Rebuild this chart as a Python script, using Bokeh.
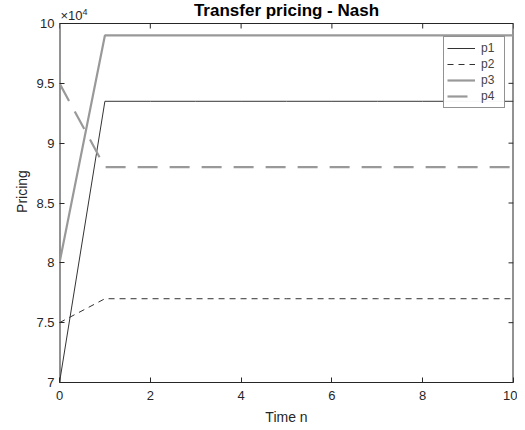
import math
from bokeh.plotting import figure
from bokeh.embed import file_html
from bokeh.resources import INLINE
from bokeh.models import (FixedTicker, CustomJSTickFormatter, Label,
                          Range1d, Legend, LegendItem)

n = [0, 1, 2, 3, 4, 5, 6, 7, 8, 9, 10]
p1 = [70000, 93500, 93500, 93500, 93500, 93500, 93500, 93500, 93500, 93500, 93500]
p2 = [75000, 77000, 77000, 77000, 77000, 77000, 77000, 77000, 77000, 77000, 77000]
p3 = [80000, 99000, 99000, 99000, 99000, 99000, 99000, 99000, 99000, 99000, 99000]
p4 = [95000, 88000, 88000, 88000, 88000, 88000, 88000, 88000, 88000, 88000, 88000]
x_ticks = [0, 2, 4, 6, 8, 10]
y_ticks = [70000, 75000, 80000, 85000, 90000, 95000, 100000]
X_MIN, X_MAX = 0, 10
Y_MIN, Y_MAX = 70000, 100000

FONT = "Liberation Sans"
AX = "#262626"

# plot box is 454 x 359 px; the frame is extended upward to hold the title
EXT = 23
PX = (Y_MAX - Y_MIN) / 359.0
p = figure(frame_width=454, frame_height=359 + EXT, output_backend="svg", toolbar_location=None,
           x_range=Range1d(X_MIN, X_MAX), y_range=Range1d(Y_MIN, Y_MAX + EXT * PX),
           min_border_left=59, min_border_right=4, min_border_top=0, min_border_bottom=40)
p.background_fill_color = "white"
p.border_fill_color = "white"
p.outline_line_color = None
p.xgrid.visible = False
p.ygrid.visible = False

for ax in (p.xaxis[0], p.yaxis[0]):
    ax.axis_line_color = AX
    ax.major_tick_in = 5
    ax.major_tick_out = 0
    ax.minor_tick_line_color = None
    ax.major_tick_line_color = AX
    ax.major_label_text_font = FONT
    ax.major_label_text_font_size = "13px"
    ax.major_label_text_color = AX
    ax.axis_label_text_font = FONT
    ax.axis_label_text_font_size = "14px"
    ax.axis_label_text_font_style = "normal"
    ax.axis_label_text_color = AX

p.yaxis.axis_line_color = None
p.xaxis.ticker = FixedTicker(ticks=x_ticks)
p.yaxis.ticker = FixedTicker(ticks=y_ticks)
p.yaxis.formatter = CustomJSTickFormatter(code="return (tick/10000).toString();")
p.xaxis.axis_label = "Time n"
p.yaxis.axis_label = "Pricing"
p.xaxis.major_label_standoff = 8
p.yaxis.major_label_standoff = 5
p.xaxis.axis_label_standoff = 6
p.yaxis.axis_label_standoff = 3

# box edges
p.line([X_MIN, X_MAX], [Y_MAX, Y_MAX], line_color=AX, line_width=1)
p.line([X_MIN, X_MIN], [Y_MIN, Y_MAX], line_color=AX, line_width=2)
p.line([X_MAX, X_MAX], [Y_MIN, Y_MAX], line_color=AX, line_width=2)

# mirrored inward ticks on top and right edges
p.ray(x=x_ticks, y=[Y_MAX] * len(x_ticks), length=5, length_units="screen",
      angle=-math.pi / 2, line_color=AX, line_width=1)
p.ray(x=[X_MAX] * len(y_ticks), y=y_ticks, length=5, length_units="screen",
      angle=math.pi, line_color=AX, line_width=1)

r1 = p.line(n, p1, line_color="#333333", line_width=1)
r2 = p.line(n, p2, line_color="#333333", line_width=1, line_dash="6 5")
r3 = p.line(n, p3, line_color="#999999", line_width=2.2)
r4 = p.line(n, p4, line_color="#999999", line_width=2.2, line_dash="20 12")

legend = Legend(items=[LegendItem(label="p1", renderers=[r1]),
                       LegendItem(label="p2", renderers=[r2]),
                       LegendItem(label="p3", renderers=[r3]),
                       LegendItem(label="p4", renderers=[r4])],
                location=(384, 274))
legend.label_text_font = FONT
legend.label_text_font_size = "12px"
legend.label_height = 16
legend.glyph_height = 16
legend.glyph_width = 28
legend.spacing = 0
legend.padding = 3
legend.margin = 0
legend.border_line_color = AX
legend.label_standoff = 6
p.add_layout(legend)

title = Label(x=(X_MIN + X_MAX) / 2, y=Y_MAX, text="Transfer pricing - Nash",
              text_font=FONT, text_font_size="17px", text_font_style="bold",
              text_color="black", text_align="center", text_baseline="middle",
              y_offset=13)
p.add_layout(title)
exp1 = Label(x=X_MIN, y=Y_MAX, text="×10", text_font=FONT, text_font_size="13px",
             text_color=AX, text_baseline="bottom", x_offset=1, y_offset=1)
exp2 = Label(x=X_MIN, y=Y_MAX, text="4", text_font=FONT, text_font_size="9px",
             text_color=AX, text_baseline="bottom", x_offset=23, y_offset=9)
p.add_layout(exp1)
p.add_layout(exp2)

open("out.html", "w").write(file_html(p, INLINE))
